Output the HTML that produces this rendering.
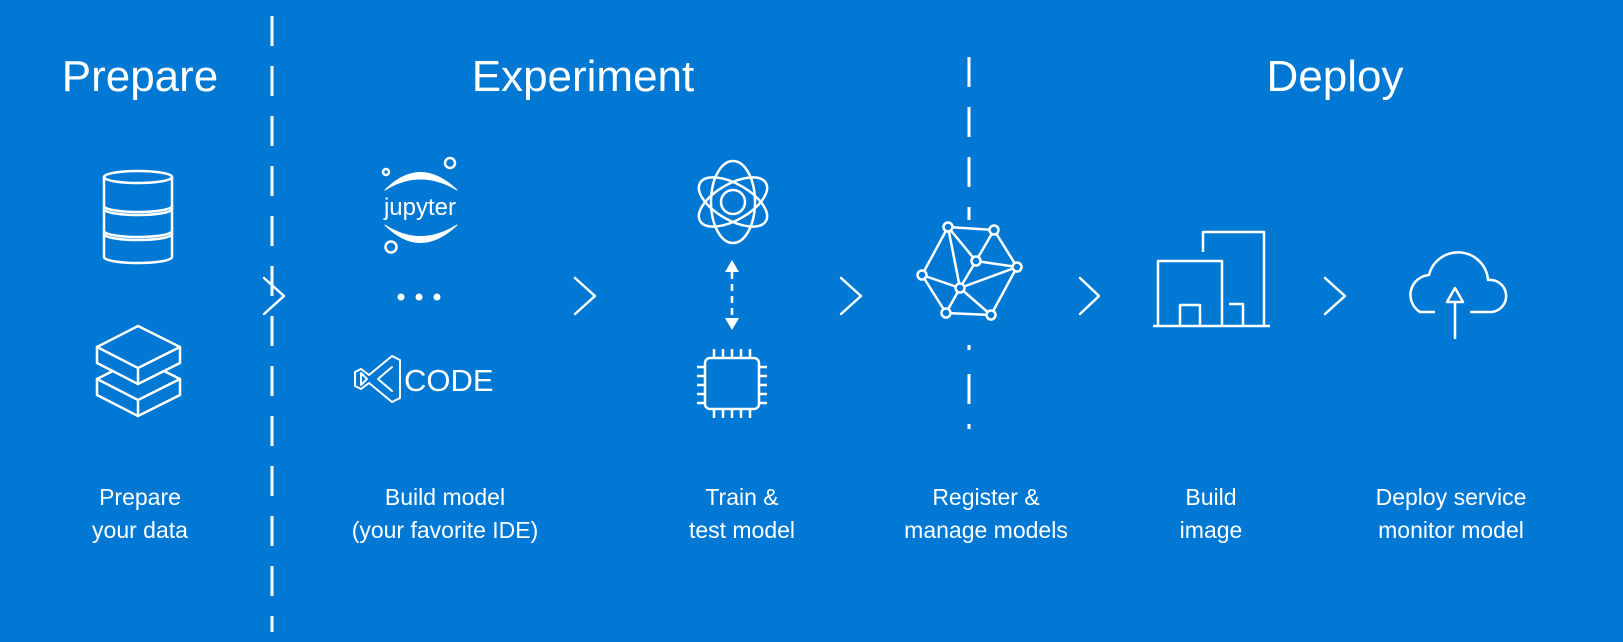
<!DOCTYPE html>
<html><head><meta charset="utf-8"><style>
html,body{margin:0;padding:0;background:#0078d4;}
svg{display:block;}
text{font-family:"Liberation Sans",sans-serif;fill:#fff;}
</style></head><body>
<svg width="1623" height="642" viewBox="0 0 1623 642" xmlns="http://www.w3.org/2000/svg">
<rect width="1623" height="642" fill="#0078d4"/>
<g stroke="#fff" stroke-width="3" fill="none" stroke-linecap="butt">
<line x1="272" y1="16" x2="272" y2="632" stroke-dasharray="30 20"/>
<line x1="969" y1="57" x2="969" y2="220" stroke-dasharray="30 20"/>
<line x1="969" y1="345" x2="969" y2="445" stroke-dasharray="5 24 30 20"/>
</g>
<g font-size="44" text-anchor="middle">
<text x="140" y="91">Prepare</text>
<text x="583" y="91">Experiment</text>
<text x="1335" y="91">Deploy</text>
</g>
<g font-size="23" text-anchor="middle">
<text x="140" y="505">Prepare</text><text x="140" y="538">your data</text>
<text x="445" y="505">Build model</text><text x="445" y="538">(your favorite IDE)</text>
<text x="742" y="505">Train &amp;</text><text x="742" y="538">test model</text>
<text x="986" y="505">Register &amp;</text><text x="986" y="538">manage models</text>
<text x="1211" y="505">Build</text><text x="1211" y="538">image</text>
<text x="1451" y="505">Deploy service</text><text x="1451" y="538">monitor model</text>
</g>
<g stroke="#fff" stroke-width="2.5" fill="none" stroke-linejoin="round" stroke-linecap="round">
<!-- chevrons -->
<polyline points="264,278 284,296 264,314"/>
<polyline points="575,278 595,296 575,314"/>
<polyline points="841,278 861,296 841,314"/>
<polyline points="1080,278 1099,296 1080,314"/>
<polyline points="1325,278 1345,296 1325,314"/>
<!-- database -->
<ellipse cx="138" cy="177" rx="34" ry="6"/>
<path d="M104,177 V257 A34,6 0 0 0 172,257 V177"/>
<path d="M104,206 A34,6 0 0 0 172,206 M104,209 A34,6 0 0 0 172,209"/>
<path d="M104,231 A34,6 0 0 0 172,231 M104,234 A34,6 0 0 0 172,234"/>
<!-- layers: bottom slab -->
<g fill="#0078d4">
<path d="M97,379 L138,358 L180,379 V395 L138,416 L97,395 Z"/>
<path d="M97,379 L138,400 L180,379 M138,400 V416"/>
<!-- top slab -->
<path d="M97,347 L138,326 L180,347 V363 L138,384 L97,363 Z"/>
<path d="M97,347 L138,368 L180,347 M138,368 V384"/>
</g>
<!-- jupyter -->
<circle cx="386" cy="172" r="3"/><circle cx="450" cy="163" r="5"/><circle cx="391" cy="247" r="5.5"/>
<path d="M385,190 Q420,155 457,190 Q420,168 385,190 Z" fill="#fff" stroke-width="1"/>
<path d="M385,225 Q420,260 457,225 Q420,248 385,225 Z" fill="#fff" stroke-width="1"/>
<!-- vs logo -->
<path d="M392,356 L400,360 V398 L392,402 L369,383 L361,389 L355,386 V372 L361,369 L369,375 Z" stroke-width="2"/>
<path d="M361,373 V385 L367,379 Z" stroke-width="2"/>
<path d="M392,367 L378,379 L392,391" stroke-width="2"/>
<!-- atom -->
<ellipse cx="733" cy="202" rx="38" ry="18" transform="rotate(30 733 202)"/>
<ellipse cx="733" cy="202" rx="38" ry="18" transform="rotate(-30 733 202)"/>
<ellipse cx="733" cy="202" rx="22" ry="41"/>
<circle cx="733" cy="202" r="12"/>
<!-- double arrow -->
<line x1="732" y1="272" x2="732" y2="318" stroke-dasharray="7 5" stroke-linecap="butt"/>
<!-- chip -->
<rect x="705" y="358" width="54" height="51" rx="5"/>
<path d="M714,349 V358 M723,349 V358 M732,349 V358 M741,349 V358 M750,349 V358 M714,409 V418 M723,409 V418 M732,409 V418 M741,409 V418 M750,409 V418 M697,367 H705 M697,376 H705 M697,385 H705 M697,394 H705 M697,403 H705 M759,367 H767 M759,376 H767 M759,385 H767 M759,394 H767 M759,403 H767" stroke-linecap="butt"/>
<!-- network -->
<path d="M948,227 L994,230 M948,227 L922,275 M948,227 L976,261 M948,227 L960,288 M994,230 L976,261 M994,230 L1017,267 M976,261 L1017,267 M976,261 L960,288 M922,275 L960,288 M922,275 L946,313 M960,288 L1017,267 M960,288 L946,313 M960,288 L991,315 M946,313 L991,315 M1017,267 L991,315"/>
<g fill="#0078d4">
<circle cx="948" cy="227" r="4.5"/><circle cx="994" cy="230" r="4.5"/><circle cx="976" cy="261" r="4.5"/><circle cx="1017" cy="267" r="4.5"/><circle cx="922" cy="275" r="4.5"/><circle cx="960" cy="288" r="4.5"/><circle cx="946" cy="313" r="4.5"/><circle cx="991" cy="315" r="4.5"/>
</g>
<!-- building -->
<path d="M1153,326 H1270" stroke-linecap="butt"/>
<path d="M1158,326 V261 H1222 V326" stroke-linecap="butt"/>
<path d="M1203,252 V232 H1264 V326" stroke-linecap="butt"/>
<path d="M1180,326 V305 H1200 V326" stroke-linecap="butt"/>
<path d="M1229,304 H1243 V326" stroke-linecap="butt"/>
<!-- cloud -->
<path d="M1435,312 H1420 A20,20 0 0 1 1429,275 A30,30 0 0 1 1488,280 A16,16 0 0 1 1492,312 H1470" stroke-linecap="butt"/>
<path d="M1455,339 V302 M1447,302 L1455,288 L1463,302 Z" stroke-linecap="butt"/>
</g>
<g fill="#fff">
<polygon points="732,260 725,272 739,272"/>
<polygon points="732,330 725,318 739,318"/>
<circle cx="401" cy="297" r="3.5"/><circle cx="419" cy="297" r="3.5"/><circle cx="437" cy="297" r="3.5"/>
</g>
<text x="420" y="215" font-size="24" text-anchor="middle">jupyter</text>
<text x="404" y="391" font-size="31">CODE</text>
</svg>
</body></html>
